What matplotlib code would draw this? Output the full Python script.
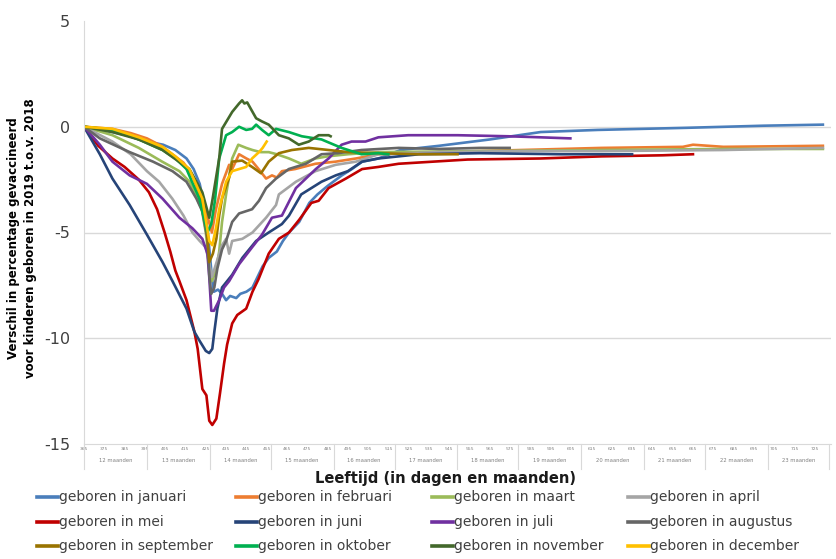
import matplotlib.pyplot as plt
from matplotlib.lines import Line2D
from matplotlib.transforms import blended_transform_factory

# Leeftijd in dagen en verschil (procentpunt) per geboortemaand
januari_dag = [365, 372, 379, 388, 396, 404, 410, 415.5, 419, 422, 424, 426, 428, 429, 431, 433, 435, 437, 440, 442,
               445, 448, 450, 453, 456, 460, 463, 466, 471, 476, 480, 485, 492, 497, 502, 510, 521, 540, 565, 590,
               618, 640, 662, 700, 729]
januari_verschil = [0, -0.1, -0.25, -0.45, -0.7, -0.85, -1.1, -1.5, -2.0, -2.7, -3.6, -5.0, -7.1, -7.8, -7.7, -7.9,
                    -8.2, -8.0, -8.1, -7.9, -7.8, -7.6, -7.2, -6.6, -6.2, -5.9, -5.4, -5.0, -4.5, -3.6, -3.2, -2.8,
                    -2.3, -2.0, -1.65, -1.5, -1.1, -0.9, -0.6, -0.25, -0.15, -0.1, -0.05, 0.05, 0.1]

februari_dag = [365, 379, 388, 396, 403, 408.5, 414, 417, 420, 422, 424, 426, 428, 430, 433, 436.5, 438, 441.4, 445,
                448, 451, 454.7, 457.6, 460, 462.5, 469, 479, 489, 499, 510, 540, 580, 620, 660, 665, 680, 729]
februari_verschil = [0, -0.1, -0.3, -0.55, -0.9, -1.3, -1.7, -2.1, -2.6, -3.1, -3.7, -4.3, -5.0, -3.9, -2.7, -1.8,
                     -2.0, -1.3, -1.5, -1.65, -2.0, -2.45, -2.3, -2.4, -2.1, -2.0, -1.75, -1.65, -1.5, -1.3, -1.2,
                     -1.1, -1.0, -0.95, -0.85, -0.95, -0.9]

maart_dag = [365, 379, 392, 403.5, 412, 417, 423, 425, 426.7, 428, 430, 431.6, 433, 435, 438, 441, 444.9, 448, 452,
             456, 460, 466, 472, 479, 485, 495, 510, 560, 620, 680, 729]
maart_verschil = [0, -0.4, -1.0, -1.65, -2.1, -2.6, -3.9, -5.0, -6.5, -7.3, -6.8, -5.9, -4.5, -3.2, -1.5, -0.85,
                  -1.0, -1.1, -1.2, -1.2, -1.3, -1.5, -1.75, -1.5, -1.4, -1.3, -1.2, -1.15, -1.1, -1.05, -1.05]

april_dag = [365, 379, 388, 396, 402, 408.5, 414, 418.4, 422, 425, 428, 430, 433, 435, 436.5, 438, 443, 448, 454.7,
             459.6, 461, 469.4, 479, 489, 499, 510, 540, 580, 620, 680, 729]
april_verschil = [0, -0.7, -1.3, -2.1, -2.6, -3.4, -4.2, -5.0, -5.4, -5.7, -7.1, -6.5, -5.6, -5.3, -6.0, -5.4, -5.3,
                  -5.0, -4.3, -3.7, -3.2, -2.6, -2.1, -1.8, -1.65, -1.3, -1.2, -1.15, -1.15, -1.1, -1.0]

mei_dag = [365, 372, 379, 385, 392, 397, 401, 404.7, 407.5, 410, 412, 415.5, 419.4, 421, 423.3, 425.3, 426.7, 428.2,
           430.2, 432, 434, 435.5, 438, 440.5, 444.9, 448, 451, 456, 461, 466, 471, 477, 480.6, 485.5, 494, 502,
           510, 520, 554, 590, 620, 650, 665]
mei_verschil = [0, -0.9, -1.5, -1.9, -2.5, -3.1, -3.9, -5.0, -5.9, -6.8, -7.3, -8.2, -9.7, -10.5, -12.4, -12.7,
                -13.9, -14.1, -13.8, -12.6, -11.2, -10.3, -9.3, -8.9, -8.6, -7.8, -7.2, -6.0, -5.3, -5.0, -4.4,
                -3.6, -3.5, -2.9, -2.45, -2.0, -1.9, -1.75, -1.55, -1.5, -1.4, -1.35, -1.3]

juni_dag = [365, 372.8, 379, 387.5, 396, 403.7, 408.6, 415.5, 419.4, 421.8, 425, 426.7, 428.2, 429.2, 430.7, 433,
            438, 443, 449.8, 456, 462.5, 466, 472, 477, 482, 489, 495, 502, 510, 530, 560, 600, 635]
juni_verschil = [0, -1.3, -2.45, -3.7, -5.1, -6.4, -7.3, -8.6, -9.7, -10.1, -10.6, -10.7, -10.5, -9.7, -8.6, -7.6,
                 -7.0, -6.2, -5.4, -5.0, -4.6, -4.2, -3.2, -2.9, -2.6, -2.3, -2.1, -1.65, -1.5, -1.3, -1.25, -1.3,
                 -1.3]

juli_dag = [365, 372.8, 379, 387.5, 396, 403.7, 412, 418.4, 423.3, 425.8, 426.7, 427.7, 429, 431.6, 434, 436.5,
            441.4, 447.8, 452.7, 457.6, 462.5, 469.4, 474.3, 479.2, 485.5, 491.9, 496.8, 503.7, 510, 524.7, 549,
            574, 590, 604.6]
juli_verschil = [0, -0.85, -1.65, -2.3, -2.7, -3.4, -4.3, -4.8, -5.3, -6.0, -7.1, -8.7, -8.7, -8.2, -7.6, -7.3,
                 -6.5, -5.7, -5.1, -4.3, -4.2, -2.9, -2.45, -2.0, -1.5, -0.85, -0.7, -0.7, -0.5, -0.4, -0.4, -0.45,
                 -0.5, -0.55]

augustus_dag = [365, 372.8, 387.5, 399, 408.6, 415.5, 420.4, 423.3, 425.8, 426.7, 427.7, 429.2, 430.7, 433, 435, 438,
                441.4, 447.8, 451.2, 454.7, 459.6, 465.9, 474.3, 482, 490, 501.7, 520, 540, 560, 574.7]
augustus_verschil = [0, -0.55, -1.2, -1.65, -2.1, -2.6, -3.4, -4.0, -5.3, -7.0, -7.9, -7.6, -6.7, -5.8, -5.4, -4.5,
                     -4.1, -3.9, -3.5, -2.9, -2.45, -2.0, -1.75, -1.3, -1.25, -1.1, -1.0, -1.05, -1.0, -1.0]

september_dag = [365, 379, 392, 403.7, 412, 418.4, 422, 425.3, 426.7, 428.5, 430.2, 431.6, 433, 436.5, 438, 442.9,
                 447.8, 452.2, 456, 461, 467.4, 475.7, 485.5, 495.3, 510, 530, 549]
september_verschil = [0, -0.15, -0.6, -1.0, -1.6, -2.3, -3.2, -4.6, -6.4, -6.0, -5.3, -4.2, -3.4, -2.4, -1.65,
                      -1.6, -1.9, -2.2, -1.65, -1.25, -1.1, -1.0, -1.1, -1.2, -1.25, -1.3, -1.3]

oktober_dag = [365, 379, 392, 403.7, 410, 415.5, 421.8, 425.8, 427.7, 429.5, 431.6, 435, 438, 441.4, 444.9, 447.8,
               449.8, 452.7, 456, 459.6, 465.9, 472.3, 482, 491.9, 501.7, 510, 514.9]
oktober_verschil = [0, -0.15, -0.6, -1.1, -1.5, -2.0, -3.4, -5.0, -4.6, -3.5, -1.5, -0.4, -0.25, 0.0, -0.15, -0.1,
                    0.1, -0.15, -0.4, -0.1, -0.25, -0.45, -0.6, -1.0, -1.3, -1.25, -1.3]

november_dag = [365, 379, 392, 403.7, 416.9, 423.3, 426.7, 428.2, 431.6, 433, 438, 441.4, 442.9, 444, 445.4, 449.8,
                452.7, 456, 461, 465.9, 470.8, 475.7, 480.6, 485.5, 486.5]
november_verschil = [0, -0.25, -0.6, -1.1, -2.0, -3.1, -4.3, -3.5, -1.5, -0.1, 0.7, 1.1, 1.25, 1.1, 1.15, 0.4, 0.25,
                     0.1, -0.4, -0.55, -0.85, -0.7, -0.4, -0.4, -0.45]

december_dag = [365, 379, 392, 403.7, 410, 416.9, 423.3, 426.7, 428.2, 430, 431.6, 435, 438, 441.4, 444.9, 447.8,
                451.2, 453, 455]
december_verschil = [0, -0.1, -0.5, -0.95, -1.4, -2.0, -3.4, -5.4, -5.6, -4.8, -3.9, -2.6, -2.1, -2.0, -1.9, -1.5,
                     -1.2, -1.0, -0.7]

maanden = ['januari', 'februari', 'maart', 'april', 'mei', 'juni',
           'juli', 'augustus', 'september', 'oktober', 'november', 'december']
kleuren = ['#4A7EBB', '#ED7D31', '#9BBB59', '#A5A5A5', '#C00000', '#264478',
           '#7030A0', '#666666', '#997300', '#00B050', '#43682B', '#FFC000']
dagen = [januari_dag, februari_dag, maart_dag, april_dag, mei_dag, juni_dag,
         juli_dag, augustus_dag, september_dag, oktober_dag, november_dag, december_dag]
verschillen = [januari_verschil, februari_verschil, maart_verschil, april_verschil, mei_verschil, juni_verschil,
               juli_verschil, augustus_verschil, september_verschil, oktober_verschil, november_verschil,
               december_verschil]

# as-labels: dagen (elke 10) en maandgroepen
dag_ticks = list(range(365, 730, 10))
maand_grenzen = [365, 396, 427, 457, 488, 518, 549, 579, 610, 641, 671, 702, 732]
maand_labels = ['12 maanden', '13 maanden', '14 maanden', '15 maanden', '16 maanden', '17 maanden',
                '18 maanden', '19 maanden', '20 maanden', '21 maanden', '22 maanden', '23 maanden']

fig = plt.figure(figsize=(8.37, 5.59), dpi=100)
ax = fig.add_axes([84 / 837, 1 - 444 / 559, (831 - 84) / 837, (444 - 21) / 559])

for naam, kleur, x, y in zip(maanden, kleuren, dagen, verschillen):
    ax.plot(x, y, color=kleur, lw=1.9, label=f'geboren in {naam}', solid_joinstyle='round')

ax.set_xlim(365, 733)
ax.set_ylim(-15, 5)

for y in [0, -5, -10]:
    ax.axhline(y, color='#D9D9D9', lw=1, zorder=0)

for kant in ['top', 'right']:
    ax.spines[kant].set_visible(False)
for kant in ['left', 'bottom']:
    ax.spines[kant].set_color('#D9D9D9')

ax.set_yticks([5, 0, -5, -10, -15])
ax.set_yticklabels(['5', '0', '-5', '-10', '-15'], fontsize=11.5, color='#404040')
ax.tick_params(axis='y', length=0, pad=10)

ax.set_xticks(dag_ticks)
ax.set_xticklabels([str(d) for d in dag_ticks], fontsize=3.2, color='#808080')
ax.tick_params(axis='x', length=0, pad=2)

trans = blended_transform_factory(ax.transData, ax.transAxes)
for g in maand_grenzen:
    ax.add_line(Line2D([g, g], [0, -0.058], transform=trans, color='#D9D9D9', lw=0.8, clip_on=False))
for i, lab in enumerate(maand_labels):
    midden = (maand_grenzen[i] + maand_grenzen[i + 1]) / 2
    ax.text(midden, -0.038, lab, transform=trans, fontsize=3.8, color='#808080',
            ha='center', va='center')

fig.text(22 / 837, 1 - 238 / 559,
         'Verschil in percentage gevaccineerd\nvoor kinderen geboren in 2019 t.o.v. 2018',
         rotation=90, ha='center', va='center', fontsize=8.5, fontweight='bold',
         multialignment='center', linespacing=1.4)
fig.text(446 / 837, 1 - 478 / 559, 'Leeftijd (in dagen en maanden)',
         ha='center', va='center', fontsize=10.5, fontweight='bold', color='#1a1a1a')

# legenda: 4 kolommen, rij voor rij gevuld
kolom_x = [37, 236, 432, 628]
rij_y = [497, 522, 546]
for i, (naam, kleur) in enumerate(zip(maanden, kleuren)):
    x0 = kolom_x[i % 4]
    y0 = 1 - rij_y[i // 4] / 559
    fig.add_artist(Line2D([x0 / 837, (x0 + 21) / 837], [y0, y0], color=kleur, lw=2.6))
    fig.text((x0 + 22) / 837, y0, f'geboren in {naam}', fontsize=10, color='#404040',
             ha='left', va='center')

fig.savefig('out.png', dpi=100)
